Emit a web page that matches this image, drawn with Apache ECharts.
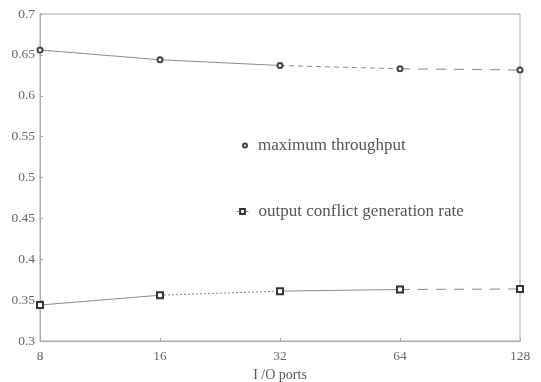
<!DOCTYPE html>
<html>
<head>
<meta charset="utf-8">
<script src="https://cdn.jsdelivr.net/npm/echarts@6/dist/echarts.min.js"></script>
<style>
  html, body { margin: 0; padding: 0; background: #fff; }
  #chart { width: 541px; height: 382px; }
</style>
</head>
<body>
<div id="chart"></div>
<script>
// x categories (I/O ports) and the two curves
var ports = ['8', '16', '32', '64', '128'];
var throughput = [0.656, 0.644, 0.637, 0.633, 0.6315];
var conflictRate = [0.344, 0.356, 0.361, 0.363, 0.3636];

// dash pattern of each segment, as in the scanned figure
var throughputDash = ['solid', 'solid', [5, 4], [10, 8]];
var conflictDash = ['solid', [2, 2], 'solid', [10, 8]];

var myChart = echarts.init(document.getElementById('chart'));
var serif = '"Liberation Serif", "DejaVu Serif", serif';

// one small series per segment so each can carry its own dash
function segments(values, dashes) {
    var out = [];
    for (var i = 0; i < values.length - 1; i++) {
        var d = values.map(function (v, j) { return (j === i || j === i + 1) ? v : null; });
        out.push({
            type: 'line',
            data: d,
            showSymbol: false,
            silent: true,
            connectNulls: false,
            lineStyle: { color: '#8a8a8a', width: 1, type: dashes[i] },
            z: 1
        });
    }
    return out;
}

var series = [
    {
        name: 'maximum throughput',
        type: 'line',
        data: throughput,
        symbol: 'emptyCircle',
        symbolSize: 5,
        showAllSymbol: true,
        itemStyle: { color: '#444', borderWidth: 1.3 },
        lineStyle: { opacity: 0, width: 0 },
        z: 3
    },
    {
        name: 'output conflict generation rate',
        type: 'line',
        data: conflictRate,
        symbol: 'emptyRect',
        symbolSize: 6,
        showAllSymbol: true,
        itemStyle: { color: '#333', borderWidth: 1.5 },
        lineStyle: { opacity: 0, width: 0 },
        z: 3
    }
].concat(segments(throughput, throughputDash), segments(conflictRate, conflictDash));

var option = {
    backgroundColor: '#fff',
    animation: false,
    grid: {
        left: 40, right: 21, top: 14, bottom: 41,
        outerBoundsMode: 'none',
        show: true, borderColor: '#aaa', borderWidth: 1
    },
    legend: [
        {
            data: ['maximum throughput'],
            left: 234, top: 132,
            itemWidth: 12, itemHeight: 5,
            textStyle: { fontFamily: serif, fontSize: 17, color: '#555', padding: [0, 0, 0, 2] },
            selectedMode: false
        },
        {
            data: [{
                name: 'output conflict generation rate',
                lineStyle: { opacity: 1, width: 1, color: '#888' }
            }],
            left: 231, top: 198,
            itemWidth: 12, itemHeight: 6,
            textStyle: { fontFamily: serif, fontSize: 17, color: '#555', padding: [0, 0, 0, 5] },
            selectedMode: false
        }
    ],
    xAxis: {
        type: 'category',
        data: ports,
        boundaryGap: false,
        name: 'I /O ports',
        nameLocation: 'middle',
        nameGap: 26,
        nameTextStyle: { fontFamily: serif, fontSize: 14, color: '#555' },
        axisLine: { lineStyle: { color: '#aaa' } },
        axisTick: { inside: true, length: 3, lineStyle: { color: '#aaa' } },
        axisLabel: { fontFamily: serif, fontSize: 13.5, color: '#666', margin: 8 },
        splitLine: { show: false }
    },
    yAxis: {
        type: 'value',
        min: 0.3, max: 0.7, interval: 0.05,
        axisLine: { show: true, lineStyle: { color: '#aaa' } },
        axisTick: { show: true, inside: true, length: 3, lineStyle: { color: '#aaa' } },
        axisLabel: {
            fontFamily: serif, fontSize: 13.5, color: '#666', margin: 5,
            formatter: function (v) { return String(Math.round(v * 100) / 100); }
        },
        splitLine: { show: false }
    },
    series: series
};

myChart.setOption(option);
</script>
</body>
</html>
